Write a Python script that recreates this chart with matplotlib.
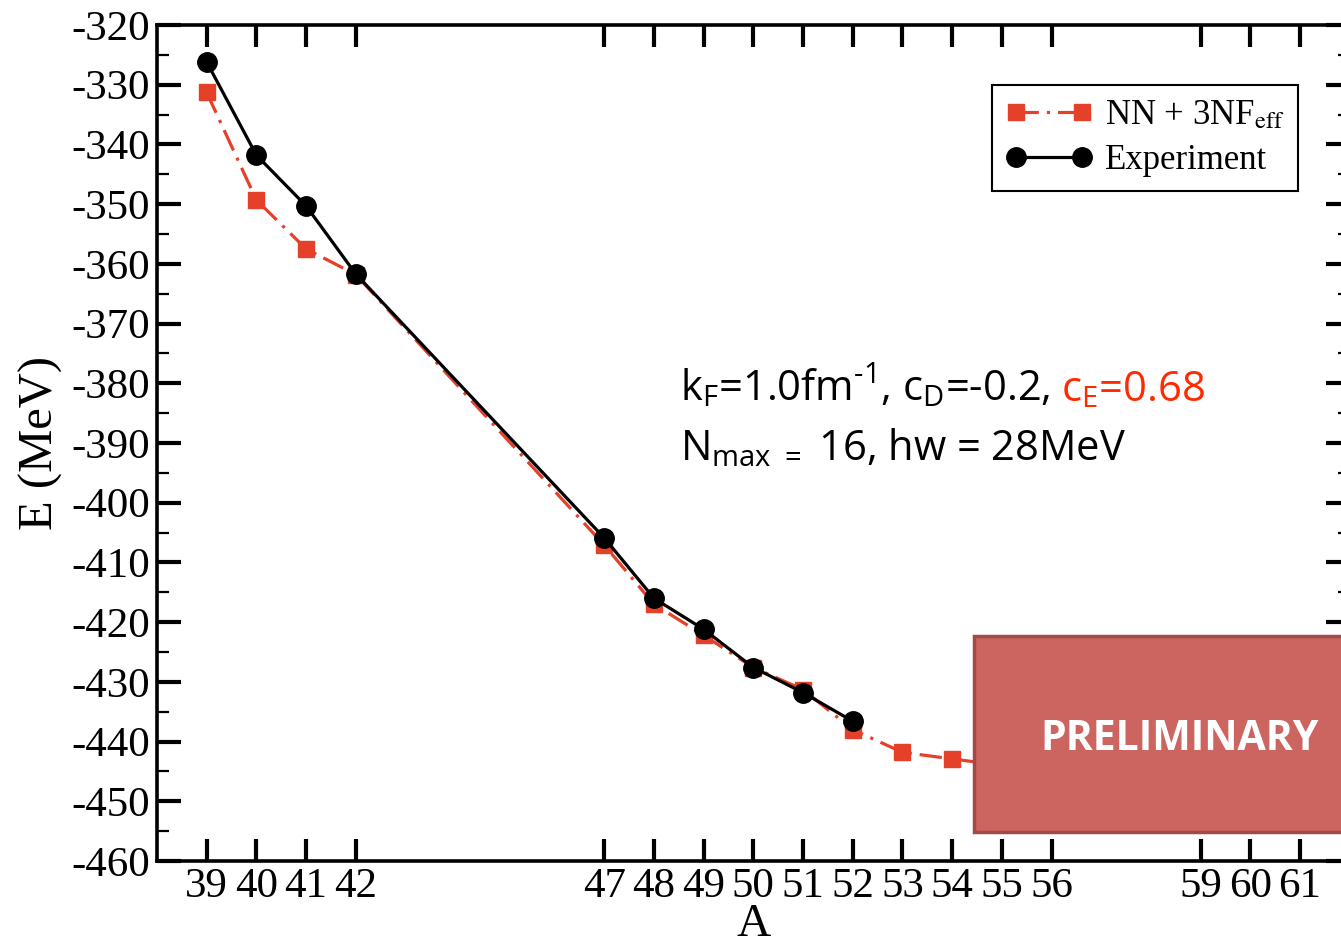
import matplotlib
matplotlib.use("Agg")
import matplotlib.pyplot as plt
from matplotlib.patches import Rectangle

# ---- data ----
A_theory = [39, 40, 41, 42, 47, 48, 49, 50, 51, 52, 53, 54, 55]
E_theory = [-331.3, -349.3, -357.5, -361.8, -407.1, -417.0, -422.2, -427.6, -431.3, -438.0, -441.8, -442.9, -444.0]
A_exp = [39, 40, 41, 42, 47, 48, 49, 50, 51, 52]
E_exp = [-326.2, -341.8, -350.3, -361.7, -405.9, -416.0, -421.2, -427.6, -431.8, -436.6]
xticks = [39, 40, 41, 42, 47, 48, 49, 50, 51, 52, 53, 54, 55, 56, 59, 60, 61]
yticks = list(range(-460, -319, 10))

plt.rcParams['axes.unicode_minus'] = False
plt.rcParams['mathtext.fontset'] = 'custom'
plt.rcParams['mathtext.rm'] = 'Open Sans'
plt.rcParams['mathtext.it'] = 'Open Sans'

W, H = 1341, 949
fig = plt.figure(figsize=(W / 100, H / 100), dpi=100)
left_px, right_px, top_px, bot_px = 157, 1349.7, 25, 861
ax = fig.add_axes([left_px / W, 1 - bot_px / H, (right_px - left_px) / W, (bot_px - top_px) / H])

red = '#E5402A'
ax.plot(A_theory, E_theory, color=red, lw=2.3, ls=(0, (7, 2.5, 1, 2.5)),
        marker='s', ms=11, mec=red, mfc=red, label=r'NN + 3NF$_{\rm eff}$', zorder=3)
ax.plot(A_exp, E_exp, color='black', lw=2.3, marker='o', ms=14, label='Experiment', zorder=4)

ax.set_xlim(38, 62)
ax.set_ylim(-460, -320)
ax.set_xticks(xticks)
ax.set_xticklabels([str(t) for t in xticks])
ax.set_yticks(yticks)
ax.set_yticks(list(range(-455, -320, 10)), minor=True)

serif = 'Liberation Serif'
for lab in ax.get_xticklabels() + ax.get_yticklabels():
    lab.set_fontfamily(serif)
    lab.set_fontsize(31)
ax.tick_params(axis='both', which='major', direction='in', top=True, right=True,
               length=16, width=3, pad=5)
ax.tick_params(axis='y', which='major', length=17, pad=5)
ax.tick_params(axis='y', which='minor', direction='in', right=True, length=8.5, width=1.6)
ax.tick_params(axis='x', which='minor', bottom=False, top=False)
for s in ax.spines.values():
    s.set_linewidth(2.6)

ax.set_xlabel('A', fontfamily=serif, fontsize=34, labelpad=-2)
ax.set_ylabel('E (MeV)', fontfamily=serif, fontsize=35, labelpad=6)

leg = ax.legend(loc='upper left', bbox_to_anchor=(992 / W, 1 - 85 / H),
                bbox_transform=fig.transFigure, numpoints=2, frameon=True,
                fancybox=False, edgecolor='black', framealpha=1,
                prop={'family': serif, 'size': 25}, handlelength=2.5,
                handletextpad=0.35, borderpad=0.4, labelspacing=0.35, borderaxespad=0)
leg.get_frame().set_linewidth(1.5)
for t in leg.get_texts():
    t.set_math_fontfamily('stix')

# annotation text
sans = 'Open Sans'
fs = 30
t1 = fig.text(680 / W, 1 - 401 / H,
              r'k$_\mathrm{F}$=1.0fm$^\text{-1}$, c$_\mathrm{D}$=-0.2,',
              fontfamily=sans, fontsize=fs, color='black', va='baseline', ha='left')
fig.text(680 / W, 1 - 460 / H, r'N$_\mathrm{max\ =}$ 16, hw = 28MeV',
         fontfamily=sans, fontsize=fs, color='black', va='baseline', ha='left')
fig.canvas.draw()
bb = t1.get_window_extent()
fig.text((bb.x1 + 10) / W, 1 - 401 / H, r'c$_\mathrm{E}$=0.68', fontfamily=sans, fontsize=fs,
         color='#FF2A00', va='baseline', ha='left')

# preliminary box
rect = Rectangle((974 / W, 1 - 832 / H), 0.3, (832 - 636) / H, transform=fig.transFigure,
                 facecolor='#CC6560', edgecolor='#A04B48', lw=2.5, zorder=10)
fig.add_artist(rect)
fig.text(1180 / W, 1 - 740 / H, 'PRELIMINARY', fontfamily=sans, fontweight='bold',
         fontsize=29.5, color='white', ha='center', va='center', zorder=11)

fig.savefig('out.png', dpi=100)
